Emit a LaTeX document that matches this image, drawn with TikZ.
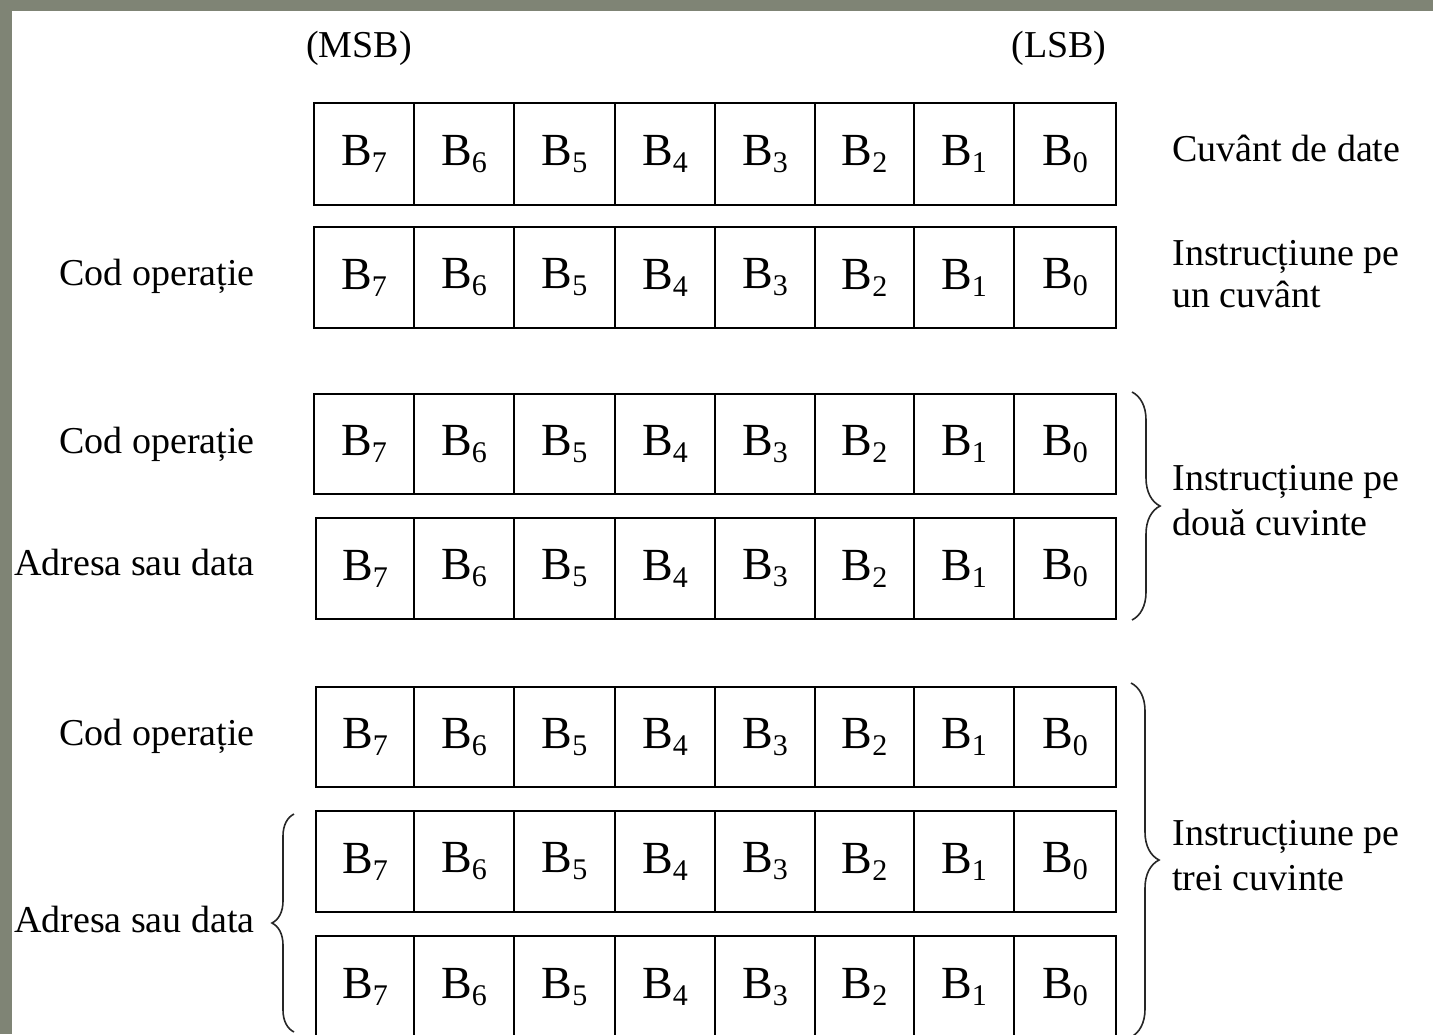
\documentclass[tikz,border=0pt]{standalone}
\usepackage{fontspec}
\setmainfont{Liberation Serif}
\usetikzlibrary{decorations.pathreplacing}
\definecolor{framegrey}{HTML}{7F8475}

% a bit name: B with its index set low and small
\newcommand\bitname[1]{B\raisebox{-3.5pt}{\fontsize{15}{15}\selectfont #1}}

\tikzset{
  cell/.style={draw=black, line width=1pt, rectangle, inner sep=0pt, anchor=north west,
               font=\fontsize{23}{23}\selectfont},
  lbl/.style={inner sep=0pt, font=\fontsize{19}{19}\selectfont},
  brace/.style={decorate, decoration={brace, amplitude=#1}, line width=0.8pt, draw=black!85},
}

\begin{document}
\begin{tikzpicture}[x=0.5pt, y=-0.5pt]
  \useasboundingbox (0,0) rectangle (1433,1034);
  \clip (0,0) rectangle (1433,1034);
  \fill[framegrey] (0,0) rectangle (1433,1034);
  \fill[white] (12,11) rectangle (1433,1034);

  % eight-bit words: row / top / bottom / left edge
  \foreach \r/\t/\b/\l in {1/102/204/313, 2/226/327/313, 3/393/493/313, 4/517/618/315,
                           5/686/786/315, 6/810/911/315, 7/935/1037/315}{
    \foreach \c/\xa/\xb in {7/0/413, 6/413/513, 5/513/614, 4/614/714,
                            3/714/814, 2/814/913, 1/913/1013, 0/1013/1115}{
      \pgfmathsetmacro\xl{\c==7 ? \l : \xa}
      \pgfmathsetmacro\cw{(\xb-\xl)*0.5}
      \pgfmathsetmacro\ch{(\b-\t)*0.5}
      \node[cell, minimum width=\cw pt, minimum height=\ch pt] (r\r c\c) at (\xl,\t) {\bitname{\c}};
    }
  }

  % bit order marks
  \node[lbl, anchor=base] (msb) at (359,57) {(MSB)};
  \node[lbl, anchor=base] (lsb) at (1059,57) {(LSB)};

  % right-hand descriptions
  \node[lbl, anchor=base west] (d1)  at (1172,161) {Cuvânt de date};
  \node[lbl, anchor=base west] (d2a) at (1172,265) {Instrucțiune pe};
  \node[lbl, anchor=base west] (d2b) at (1172,307) {un cuvânt};
  \node[lbl, anchor=base west] (d3a) at (1172,490) {Instrucțiune pe};
  \node[lbl, anchor=base west] (d3b) at (1172,535) {două cuvinte};
  \node[lbl, anchor=base west] (d4a) at (1172,845) {Instrucțiune pe};
  \node[lbl, anchor=base west] (d4b) at (1172,890) {trei cuvinte};

  % left-hand field names
  \node[lbl, anchor=base east] (f2) at (255,285) {Cod operație};
  \node[lbl, anchor=base east] (f3) at (255,453) {Cod operație};
  \node[lbl, anchor=base east] (f4) at (255,575) {Adresa sau data};
  \node[lbl, anchor=base east] (f5) at (255,745) {Cod operație};
  \node[lbl, anchor=base east] (f6) at (255,932) {Adresa sau data};

  % braces grouping the words of one instruction
  \coordinate (b3top) at (1132,392);
  \coordinate (b3bot) at (1132,620);
  \coordinate (b5top) at (1131,683);
  \coordinate (b5bot) at (1131,1037);
  \coordinate (a6top) at (294,814);
  \coordinate (a6bot) at (294,1032);
  \draw[brace=14pt] (b3top) -- (b3bot);
  \draw[brace=14pt] (b5top) -- (b5bot);
  \draw[brace=11pt] (a6bot) -- (a6top);
\end{tikzpicture}
\end{document}
